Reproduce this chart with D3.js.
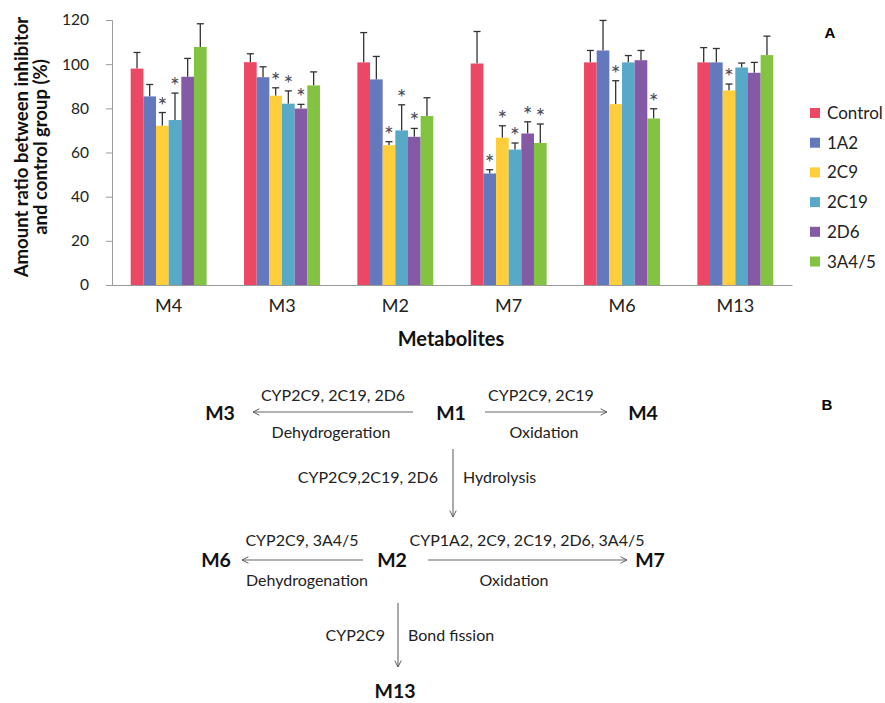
<!DOCTYPE html>
<html>
<head>
<meta charset="utf-8">
<script src="https://cdn.jsdelivr.net/npm/d3@7"></script>
<style>
  html, body { margin: 0; padding: 0; background: #fff; }
  svg { display: block; }
  text { font-family: Lato, "Open Sans", sans-serif; }
</style>
</head>
<body>
<svg id="chart" width="885" height="703"></svg>
<script>
// ---------- Data (panel A) ----------
const metabolites = ["M4", "M3", "M2", "M7", "M6", "M13"];
const seriesNames = ["Control", "1A2", "2C9", "2C19", "2D6", "3A4/5"];
const seriesColors = ["#EC4764", "#6479BD", "#FFCE3A", "#58A8C8", "#8459A5", "#83C341"];

// means per series, in metabolite order
const controlMean = [98.0, 100.9, 100.8, 100.3, 100.8, 100.8];
const cyp1A2Mean  = [85.4, 94.1, 93.1, 50.5, 106.2, 100.8];
const cyp2C9Mean  = [72.1, 85.7, 63.3, 66.7, 81.9, 88.1];
const cyp2C19Mean = [74.7, 82.1, 70.0, 61.3, 100.8, 98.5];
const cyp2D6Mean  = [94.3, 79.9, 67.1, 68.6, 101.8, 96.1];
const cyp3A45Mean = [107.8, 90.4, 76.5, 64.3, 75.4, 104.1];

// error (upper) per series
const controlErr = [7.3, 3.8, 13.5, 14.5, 5.4, 6.7];
const cyp1A2Err  = [5.4, 4.7, 10.4, 1.7, 13.6, 6.3];
const cyp2C9Err  = [6.0, 3.6, 1.6, 5.4, 10.6, 2.9];
const cyp2C19Err = [12.2, 5.8, 11.6, 3.0, 3.1, 2.0];
const cyp2D6Err  = [8.3, 1.9, 3.8, 5.3, 4.4, 4.7];
const cyp3A45Err = [10.5, 6.1, 8.3, 8.6, 4.4, 8.6];

// significance markers (*)
const controlSig = [0, 0, 0, 0, 0, 0];
const cyp1A2Sig  = [0, 0, 0, 1, 0, 0];
const cyp2C9Sig  = [1, 1, 1, 1, 1, 1];
const cyp2C19Sig = [1, 1, 1, 1, 0, 0];
const cyp2D6Sig  = [0, 1, 1, 1, 0, 0];
const cyp3A45Sig = [0, 0, 0, 1, 1, 0];

const yTicks = [0, 20, 40, 60, 80, 100, 120];

const means = [controlMean, cyp1A2Mean, cyp2C9Mean, cyp2C19Mean, cyp2D6Mean, cyp3A45Mean];
const errs  = [controlErr, cyp1A2Err, cyp2C9Err, cyp2C19Err, cyp2D6Err, cyp3A45Err];
const sigs  = [controlSig, cyp1A2Sig, cyp2C9Sig, cyp2C19Sig, cyp2D6Sig, cyp3A45Sig];

// ---------- Data (panel B) ----------
const pathwayNodes = ["M1", "M3", "M4", "M2", "M6", "M7", "M13"];
const pathwayEdges = [
  { from: "M1", to: "M3",  enzymes: "CYP2C9, 2C19, 2D6", reaction: "Dehydrogeration" },
  { from: "M1", to: "M4",  enzymes: "CYP2C9, 2C19", reaction: "Oxidation" },
  { from: "M1", to: "M2",  enzymes: "CYP2C9,2C19, 2D6", reaction: "Hydrolysis" },
  { from: "M2", to: "M6",  enzymes: "CYP2C9, 3A4/5", reaction: "Dehydrogenation" },
  { from: "M2", to: "M7",  enzymes: "CYP1A2, 2C9, 2C19, 2D6, 3A4/5", reaction: "Oxidation" },
  { from: "M2", to: "M13", enzymes: "CYP2C9", reaction: "Bond fission" }
];

// ---------- Panel A ----------
const svg = d3.select("#chart");
const yScale = d3.scaleLinear().domain([0, 120]).range([285, 20]);
const x0 = d3.scaleBand().domain(metabolites).range([112, 792]).paddingInner(0.33).paddingOuter(0.165);
const x1 = d3.scaleBand().domain(seriesNames).range([0, x0.bandwidth()]);
const color = d3.scaleOrdinal().domain(seriesNames).range(seriesColors);

const rows = [];
metabolites.forEach((m, gi) => {
  seriesNames.forEach((s, si) => {
    rows.push({ m, s, v: means[si][gi], e: errs[si][gi], sig: sigs[si][gi] });
  });
});

// y axis
const yAxis = svg.append("g").attr("transform", "translate(112,0)")
  .call(d3.axisLeft(yScale).tickValues(yTicks).tickSize(6).tickPadding(17).tickFormat(d3.format("d")));
yAxis.select(".domain").attr("stroke", "#9a9a9a");
yAxis.selectAll(".tick line").attr("stroke", "#9a9a9a");
yAxis.selectAll(".tick text").style("font-size", "15.5px").style("fill", "#222").style("font-family", "Lato, sans-serif");

// x axis
const xAxis = svg.append("g").attr("transform", "translate(0,285)")
  .call(d3.axisBottom(x0).tickSize(0).tickPadding(14));
xAxis.select(".domain").attr("stroke", "#9a9a9a");
xAxis.selectAll(".tick text").style("font-size", "18px").style("fill", "#222").style("font-family", "Lato, sans-serif");

// error bars
const eb = svg.append("g");
rows.forEach(r => {
  const cx = x0(r.m) + x1(r.s) + x1.bandwidth() / 2;
  const yTop = yScale(r.v + r.e);
  eb.append("line").attr("x1", cx).attr("x2", cx).attr("y1", yScale(r.v)).attr("y2", yTop)
    .attr("stroke", "#333").attr("stroke-width", 1.3);
  eb.append("line").attr("x1", cx - 3.5).attr("x2", cx + 3.5).attr("y1", yTop).attr("y2", yTop)
    .attr("stroke", "#333").attr("stroke-width", 1.3);
});

// bars
svg.append("g").selectAll("rect").data(rows).join("rect")
  .attr("x", d => x0(d.m) + x1(d.s))
  .attr("y", d => yScale(d.v))
  .attr("width", x1.bandwidth())
  .attr("height", d => yScale(0) - yScale(d.v))
  .attr("fill", d => color(d.s));

// stars
svg.append("g").selectAll("text").data(rows.filter(d => d.sig)).join("text")
  .attr("x", d => x0(d.m) + x1(d.s) + x1.bandwidth() / 2)
  .attr("y", d => yScale(d.v + d.e) + 1)
  .attr("text-anchor", "middle")
  .style("font-size", "23px")
  .style("fill", "#4b4b58")
  .text("*");

// axis titles
const yl = svg.append("g").attr("transform", "translate(0,147)");
yl.append("text").attr("transform", "translate(28,0) rotate(-90)").attr("text-anchor", "middle")
  .style("font-size", "18.5px").style("font-weight", "bold").style("fill", "#111").text("Amount ratio between inhibitor");
yl.append("text").attr("transform", "translate(47,0) rotate(-90)").attr("text-anchor", "middle")
  .style("font-size", "18.5px").style("font-weight", "bold").style("fill", "#111").text("and control group (%)");
svg.append("text").attr("x", 451).attr("y", 346).attr("text-anchor", "middle")
  .style("font-size", "20px").style("font-weight", "bold").style("fill", "#111").text("Metabolites");

// legend
const lg = svg.append("g");
seriesNames.forEach((s, i) => {
  const cy = 113 + i * 29.7;
  lg.append("rect").attr("x", 810).attr("y", cy - 5).attr("width", 10).attr("height", 10).attr("fill", color(s));
  lg.append("text").attr("x", 827).attr("y", cy + 6).style("font-size", "17px").style("fill", "#222").text(s);
});

// panel letters
svg.append("text").attr("x", 830).attr("y", 38).attr("text-anchor", "middle")
  .style("font-family", "Liberation Sans, Arial, sans-serif").style("font-size", "15px").style("font-weight", "bold").style("fill", "#000").text("A");
svg.append("text").attr("x", 827).attr("y", 410).attr("text-anchor", "middle")
  .style("font-family", "Liberation Sans, Arial, sans-serif").style("font-size", "15px").style("font-weight", "bold").style("fill", "#000").text("B");

// ---------- Panel B ----------
const nodeLayout = {
  M1: [451, 420], M3: [220, 420], M4: [643, 420],
  M2: [392, 567], M6: [216, 567], M7: [650, 567], M13: [395, 698]
};
const edgeLayout = {
  "M1-M3":  { type: "h", y: 412, xs: 413, xe: 253, top: [333, 401], bottom: [331, 438] },
  "M1-M4":  { type: "h", y: 412, xs: 485, xe: 607, top: [541, 401], bottom: [544, 438] },
  "M1-M2":  { type: "v", x: 453, ys: 449, ye: 517, left: [438, 483], right: [463, 483] },
  "M2-M6":  { type: "h", y: 560, xs: 363, xe: 242, top: [302, 546], bottom: [307, 586] },
  "M2-M7":  { type: "h", y: 560, xs: 428, xe: 627, top: [527, 546], bottom: [514, 586] },
  "M2-M13": { type: "v", x: 398, ys: 603, ye: 667, left: [385, 641], right: [408, 641] }
};

const defs = svg.append("defs");
defs.append("marker").attr("id", "arr").attr("viewBox", "0 0 10 10")
  .attr("refX", 9).attr("refY", 5).attr("markerWidth", 8).attr("markerHeight", 8)
  .attr("markerUnits", "userSpaceOnUse").attr("orient", "auto")
  .append("path").attr("d", "M1,1 L9,5 L1,9").attr("fill", "none").attr("stroke", "#555").attr("stroke-width", 1.2);

const pb = svg.append("g");
const lblStyle = sel => sel.style("font-size", "16px").style("fill", "#222");

pathwayEdges.forEach(e => {
  const L = edgeLayout[e.from + "-" + e.to];
  if (L.type === "h") {
    pb.append("line").attr("x1", L.xs).attr("y1", L.y).attr("x2", L.xe).attr("y2", L.y)
      .attr("stroke", "#666").attr("stroke-width", 1.1).attr("marker-end", "url(#arr)");
    pb.append("text").attr("x", L.top[0]).attr("y", L.top[1]).attr("text-anchor", "middle").call(lblStyle).text(e.enzymes);
    pb.append("text").attr("x", L.bottom[0]).attr("y", L.bottom[1]).attr("text-anchor", "middle").call(lblStyle).text(e.reaction);
  } else {
    pb.append("line").attr("x1", L.x).attr("y1", L.ys).attr("x2", L.x).attr("y2", L.ye)
      .attr("stroke", "#666").attr("stroke-width", 1.1).attr("marker-end", "url(#arr)");
    pb.append("text").attr("x", L.left[0]).attr("y", L.left[1]).attr("text-anchor", "end").call(lblStyle).text(e.enzymes);
    pb.append("text").attr("x", L.right[0]).attr("y", L.right[1]).attr("text-anchor", "start").call(lblStyle).text(e.reaction);
  }
});

pathwayNodes.forEach(n => {
  const p = nodeLayout[n];
  pb.append("text").attr("x", p[0]).attr("y", p[1]).attr("text-anchor", "middle")
    .style("font-size", "19.5px").style("font-weight", "bold").style("fill", "#111").text(n);
});
</script>
</body>
</html>
